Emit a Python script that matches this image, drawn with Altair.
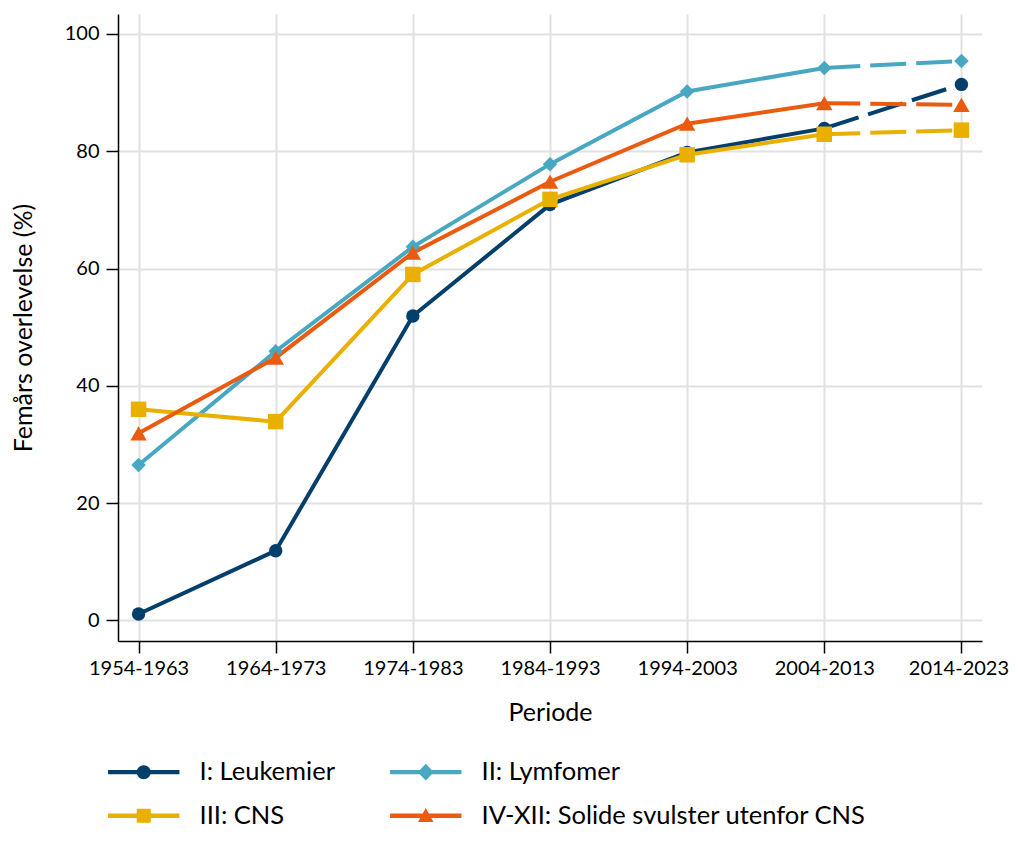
import altair as alt
import pandas as pd

periods = ["1954-1963", "1964-1973", "1974-1983", "1984-1993", "1994-2003", "2004-2013", "2014-2023"]
series = ["I: Leukemier", "II: Lymfomer", "III: CNS", "IV-XII: Solide svulster utenfor CNS"]
leukemier = [1.1, 11.9, 51.9, 70.9, 79.8, 83.9, 91.4]
lymfomer = [26.5, 45.9, 63.7, 77.8, 90.2, 94.2, 95.4]
cns = [36.0, 33.9, 59.0, 71.8, 79.4, 82.9, 83.6]
solide = [31.9, 44.8, 62.7, 74.8, 84.7, 88.2, 87.9]
colors = ["#043f6b", "#48a8c2", "#e9b000", "#ea5b0f"]
shapes = ["circle", "diamond", "square", "triangle-up"]
sizes = [180, 270, 180, 260]

values = [leukemier, lymfomer, cns, solide]
rows = []
for s, vals in zip(series, values):
    for i, (p, v) in enumerate(zip(periods, vals)):
        rows.append({"serie": s, "periode": p, "verdi": v, "idx": i})
df = pd.DataFrame(rows)

FONT = "Lato"

# legend symbols: line + marker (unit coords, scaled by sqrt(size)/2)
bar = "M-5.1,-0.32 L5.1,-0.32 L5.1,0.32 L-5.1,0.32 Z "
legend_paths = [
    bar + "M1,0 A1,1 0 1,1 -1,0 A1,1 0 1,1 1,0 Z",
    bar + "M0,-1.2 L1.15,0 L0,1.2 L-1.15,0 Z",
    bar + "M-1,-1 L1,-1 L1,1 L-1,1 Z",
    bar + "M0,-1.1 L1.1,0.9 L-1.1,0.9 Z",
]

x = alt.X(
    "periode:O",
    sort=periods,
    scale=alt.Scale(type="point", padding=0.15),
    axis=alt.Axis(
        title="Periode", labelAngle=0, grid=True, tickSize=12, labelPadding=5,
        titlePadding=22,
        labelOffset={"condition": {"test": "datum.value === '2014-2023'", "value": -3}, "value": 0},
    ),
)
y = alt.Y(
    "verdi:Q",
    scale=alt.Scale(domain=[-3.5, 103.4], nice=False, zero=False),
    axis=alt.Axis(
        title="Femårs overlevelse (%)", values=[0, 20, 40, 60, 80, 100], tickSize=12,
        labelPadding=7, titlePadding=28,
    ),
)
color_nolegend = alt.Color("serie:N", scale=alt.Scale(domain=series, range=colors), legend=None)

base = alt.Chart(df)

solid = base.mark_line(strokeWidth=4).encode(x=x, y=y, color=color_nolegend).transform_filter("datum.idx <= 5")
dashed = base.mark_line(strokeWidth=4, strokeDash=[36, 10]).encode(x=x, y=y, color=color_nolegend).transform_filter("datum.idx >= 5")
points = base.mark_point(filled=True, opacity=1).encode(
    x=x, y=y, color=color_nolegend,
    shape=alt.Shape("serie:N", scale=alt.Scale(domain=series, range=shapes), legend=None),
    size=alt.Size("serie:N", scale=alt.Scale(domain=series, range=sizes), legend=None),
)

leg = alt.Legend(
    title=None, orient="none", direction="horizontal", legendX=13, legendY=745, columns=2,
    symbolSize=196, symbolStrokeWidth=0, labelFont=FONT, labelFontSize=25.5,
    labelOffset=43, columnPadding=55, rowPadding=17, padding=0, labelColor="#000000",
    symbolOpacity=1, labelLimit=600,
)
legend_layer = base.mark_point(filled=True, opacity=1).encode(
    x=x, y=y,
    color=alt.Color("serie:N", scale=alt.Scale(domain=series, range=colors), legend=leg),
    shape=alt.Shape("serie:N", scale=alt.Scale(domain=series, range=legend_paths), legend=leg),
).transform_filter("false")

chart = (
    alt.layer(solid, dashed, points, legend_layer)
    .resolve_scale(color="independent", shape="independent", size="independent")
    .properties(
        width=864, height=627,
        autosize=alt.AutoSizeParams(type="none"),
        padding={"left": 110, "top": 6, "right": 27, "bottom": 190},
    )
    .configure_view(stroke=None)
    .configure_axis(
        labelFont=FONT, titleFont=FONT, labelFontSize=20, titleFontSize=25,
        labelColor="#000000", titleColor="#000000", titleFontWeight="normal",
        domainColor="#000000", domainWidth=1.5, tickColor="#000000", tickWidth=1.5,
        gridColor="#e1e1e1", gridWidth=2,
    )
)

chart.save("out.html", embed_options={"renderer": "svg", "actions": False})
